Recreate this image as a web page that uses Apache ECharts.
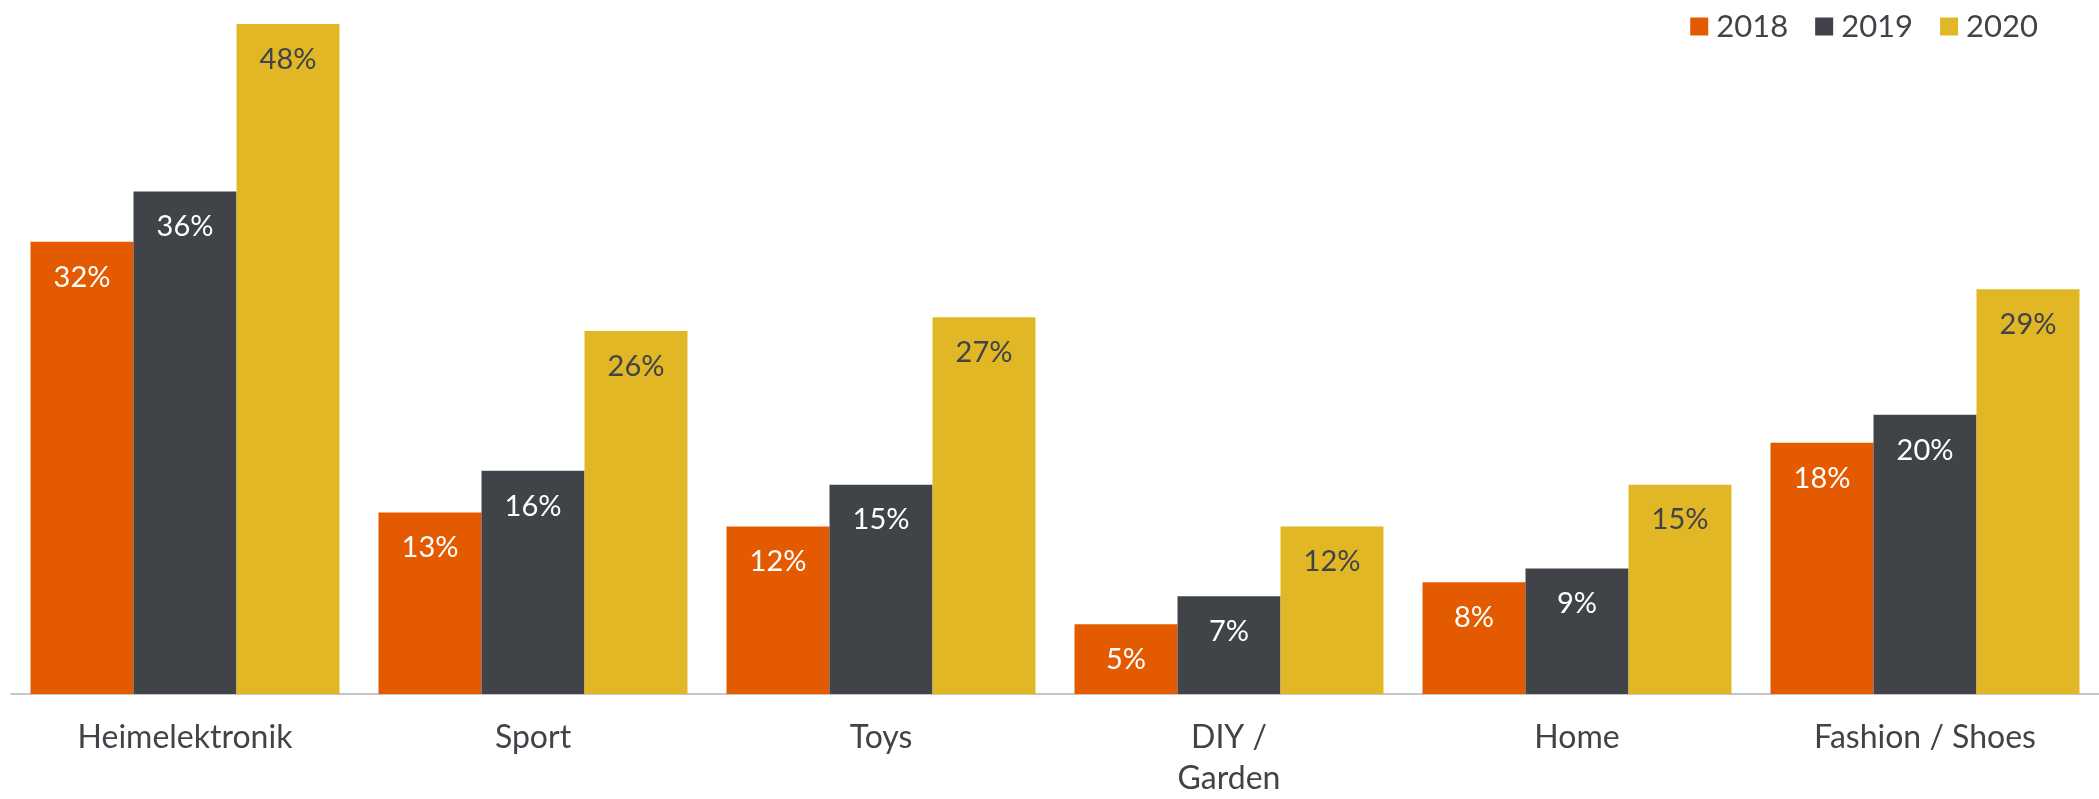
<!DOCTYPE html>
<html>
<head>
<meta charset="utf-8">
<script src="https://cdn.jsdelivr.net/npm/echarts@6/dist/echarts.min.js"></script>
<style>
html,body{margin:0;padding:0;background:#fff;}
#chart{width:2099px;height:799px;}
</style>
</head>
<body>
<div id="chart"></div>
<script>
const categories = ['Heimelektronik', 'Sport', 'Toys', 'DIY /\nGarden', 'Home', 'Fashion / Shoes'];
const seriesNames = ['2018', '2019', '2020'];
const values2018 = [32.4, 13, 12, 5, 8, 18];
const values2019 = [36, 16, 15, 7, 9, 20];
const values2020 = [48, 26, 27, 12, 15, 29];

const colors = ['#E35A00', '#404348', '#E1B725'];
const labelColors = ['#ffffff', '#ffffff', '#404348'];
const FONT = 'Lato';

const chart = echarts.init(document.getElementById('chart'));
const allValues = [values2018, values2019, values2020];

chart.setOption({
  animation: false,
  textStyle: { fontFamily: FONT },
  color: colors,
  legend: {
    right: 56,
    top: 6,
    itemWidth: 18,
    itemHeight: 18,
    itemGap: 27,
    icon: 'rect',
    textStyle: { fontFamily: FONT, fontSize: 31, color: '#404348', padding: [0, 0, 0, 3] },
    data: seriesNames
  },
  grid: { left: 11, width: 2093, top: 24, bottom: 96, containLabel: false },
  xAxis: {
    type: 'category',
    data: categories,
    axisLine: { show: true, lineStyle: { color: '#b3b3b3', width: 1.5 } },
    axisTick: { show: false },
    axisLabel: {
      fontFamily: FONT, fontSize: 32, color: '#404348',
      margin: 23, lineHeight: 41, interval: 0
    }
  },
  yAxis: {
    type: 'value', min: 0, max: 48, show: false,
    splitLine: { show: false }
  },
  series: seriesNames.map((name, i) => ({
    name: name,
    type: 'bar',
    data: allValues[i],
    barWidth: 103,
    barGap: '0%',
    itemStyle: { color: colors[i] },
    label: {
      show: true,
      position: 'insideTop',
      distance: 21,
      fontFamily: FONT,
      fontSize: 29,
      color: labelColors[i],
      formatter: p => Math.round(p.value) + '%'
    }
  }))
});
</script>
</body>
</html>
